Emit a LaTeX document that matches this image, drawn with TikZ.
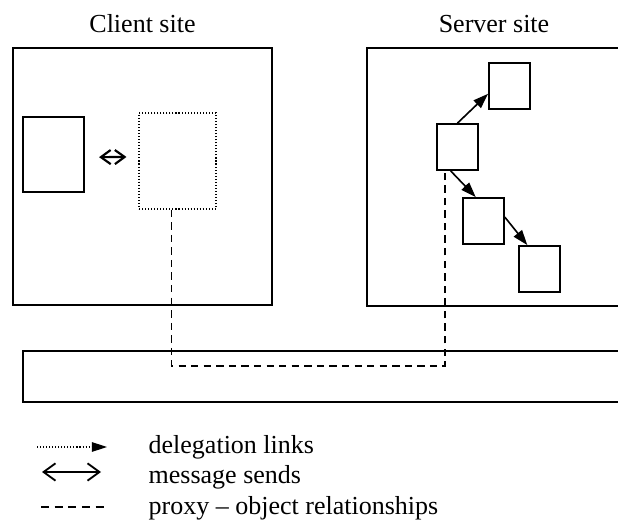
\documentclass[tikz,border=0pt]{standalone}
\usepackage{fontspec}
\setmainfont{Liberation Serif}
\usetikzlibrary{arrows.meta,positioning,calc}

\begin{document}
\begin{tikzpicture}[x=0.4615pt,y=-0.4615pt,
  site/.style={draw,line width=0.9pt,inner sep=0pt},
  obj/.style={draw,line width=0.85pt,inner sep=0pt,minimum width=18.9pt,minimum height=21.2pt},
  proxybox/.style={draw,line width=0.6pt,dash pattern=on 0.5pt off 0.9pt,inner sep=0pt,minimum width=35.5pt,minimum height=44.3pt},
  link/.style={-{Triangle[length=7pt,width=4.8pt]},line width=0.75pt},
  deleg/.style={-{Triangle[length=7pt,width=4.4pt]},line width=0.55pt,dash pattern=on 0.5pt off 0.9pt},
  msgsend/.style={{Straight Barb[length=4.5pt,width=6.5pt]}-{Straight Barb[length=4.5pt,width=6.5pt]},line width=1pt},
  msgkey/.style={{Straight Barb[length=5.5pt,width=8pt]}-{Straight Barb[length=5.5pt,width=8pt]},line width=0.85pt},
  proxyline/.style={line width=0.85pt,dash pattern=on 3.4pt off 2.4pt},
  legend/.style={anchor=west,font=\fontsize{12}{14}\selectfont},
  every label/.style={font=\fontsize{12}{14}\selectfont}]
  \useasboundingbox (0,0) rectangle (618,520);
  \clip (0,0) rectangle (618,520);

  % the two sites and the network
  \node[site,minimum width=119.5pt,minimum height=118.6pt,label={[label distance=3pt]above:Client site}] (client) at (142.5,176.5) {};
  \node[site,minimum width=117.2pt,minimum height=119.1pt,label={[label distance=3pt]above:Server site}] (server) at (494,177) {};
  \node[site,minimum width=284.7pt,minimum height=23.5pt] (bus) at (331.5,376.5) {};

  % client objects
  \node[obj,minimum width=28.2pt,minimum height=34.6pt] (caller) at (53.5,154.5) {};
  \node[proxybox] (proxy) at (177.5,161) {};
  \draw[msgsend,shorten <=6.5pt,shorten >=5.5pt] (caller.-5) -- (proxy.174);

  % server objects
  \node[obj] (obja) at (509.5,86) {};
  \node[obj] (objb) at (457.5,147) {};
  \node[obj] (objc) at (483.5,221) {};
  \node[obj] (objd) at (539.5,269) {};
  \draw[link] (objb.north) -- (obja.200);
  \draw[link] (objb.254) -- (objc.108);
  \draw[link] (objc.10) -- (objd.117);

  % proxy to object
  \coordinate (bend) at (445,366);
  \draw[proxyline] (proxy.263) |- (bend) -- (bend |- objb.south);

  % legend
  \coordinate (delega) at (37,447);
  \coordinate (delegb) at (107,447);
  \coordinate (msga) at (42,472);
  \coordinate (msgb) at (101,472);
  \coordinate (prxa) at (41,507);
  \coordinate (prxb) at (104,507);
  \draw[deleg] (delega) -- (delegb);
  \draw[msgkey] (msga) -- (msgb);
  \draw[proxyline,dash pattern=on 3.7pt off 2.6pt] (prxa) -- (prxb);
  \node[legend] (delegtext) at (141,447) {delegation links};
  \node[legend] (msgtext) at (141,477) {message sends};
  \node[legend] (prxtext) at (141,508) {proxy -- object relationships};
\end{tikzpicture}
\end{document}
